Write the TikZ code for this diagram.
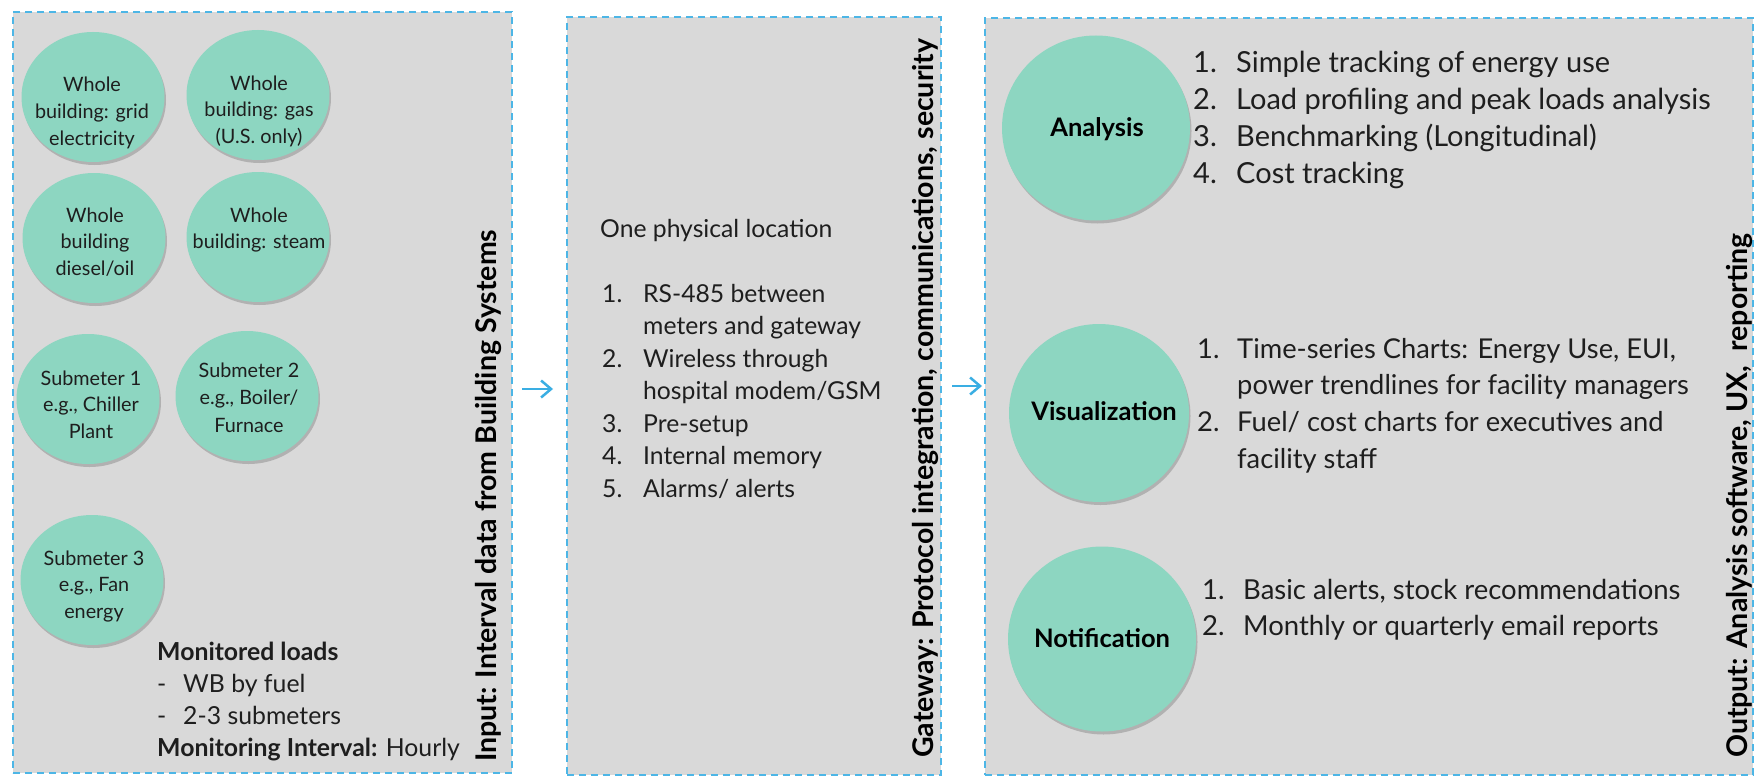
\documentclass[tikz,border=0pt]{standalone}
\usepackage{fontspec}
\setmainfont{Lato}
\usetikzlibrary{shapes.geometric,arrows.meta}
\definecolor{panelfill}{HTML}{D9D9D9}
\definecolor{dashblue}{HTML}{4DB6E6}
\definecolor{arrowblue}{HTML}{3AAEE3}
\definecolor{mint}{HTML}{8DD6C1}
\definecolor{txt}{HTML}{1E1E1E}
\newcommand\fsz[1]{\fontsize{#1}{#1}\selectfont}
\newcommand\cstack[2]{\vtop{\baselineskip=#1\relax\lineskiplimit=-100pt\halign{\hfil##\hfil\cr#2\crcr}}}
\newcommand\lstack[2]{\vtop{\baselineskip=#1\relax\lineskiplimit=-100pt\halign{##\hfil\cr#2\crcr}}}
\newcommand\numb[2]{\makebox[#1][l]{#2}}
\tikzset{
  panel/.style={draw=dashblue, fill=panelfill, line width=2pt, dash pattern=on 7pt off 5pt, inner sep=0pt, rectangle},
  shade/.style={fill=black, opacity=0.18},
  circ/.style={ellipse, fill=mint, inner sep=0pt},
  small/.style={circ, minimum width=143pt, minimum height=130pt},
  ctext/.style={anchor=base, inner sep=0pt, text=txt, font=\fsz{19.8}},
  ltext/.style={anchor=base west, inner sep=0pt, text=txt},
  title/.style={rotate=90, anchor=base west, inner sep=0pt, text=black, font=\fsz{28.5}\bfseries},
  label/.style={anchor=base, inner sep=0pt, text=black, font=\fsz{25.5}\bfseries},
  flow/.style={draw=arrowblue, line width=2.5pt, -{Straight Barb[length=10pt,width=17pt,line width=2.5pt]}}
}
\begin{document}
\begin{tikzpicture}[x=1pt,y=-1pt]
\fill[white] (0,0) rectangle (1760,776);
\useasboundingbox (0,0) rectangle (1760,776);
% panels
\node[panel, minimum width=499pt, minimum height=761pt] (p1) at (262.5,392.5) {};
\node[panel, minimum width=374pt, minimum height=758pt] (p2) at (754,396) {};
\node[panel, minimum width=768pt, minimum height=757pt] (p3) at (1369,396.5) {};
% titles
\node[title] (t1) at (496,762) {Input: Interval data from Building Systems};
\node[title] (t2) at (933,758) {Gateway: Protocol integration, communications, security};
\node[title] (t3) at (1747,758) {Output: Analysis software, UX,\ \ reporting};
% panel 1 circles with shadows
\foreach \n/\cx/\cy in {c1/93/97, c2/258/95, c3/94/238, c4/258/237, c5/88/399, c6/247/396, c7/92/580}{
  \fill[shade] (\cx+1.5,\cy+3) ellipse [x radius=71.5pt, y radius=65pt];
  \node[small] (\n) at (\cx,\cy) {};
}
\node[ctext] (c1t) at (92,92) {\cstack{26.5pt}{Whole\cr building: grid\cr electricity}};
\node[ctext] (c2t) at (259,90) {\cstack{26.5pt}{Whole\cr building: gas\cr (U.S. only)}};
\node[ctext] (c3t) at (95,222) {\cstack{26.5pt}{Whole\cr building\cr diesel/oil}};
\node[ctext] (c4t) at (259,222) {\cstack{26.5pt}{Whole\cr building: steam}};
\node[ctext] (c5t) at (91,385) {\cstack{26.5pt}{Submeter 1\cr e.g., Chiller\cr Plant}};
\node[ctext] (c6t) at (249,377) {\cstack{27.5pt}{Submeter 2\cr e.g., Boiler/\cr Furnace}};
\node[ctext] (c7t) at (94,565) {\cstack{26.5pt}{Submeter 3\cr e.g., Fan\cr energy}};
% panel 1 notes
\node[ltext, font=\fsz{24.8}] (notes) at (157,660) {\lstack{32.3pt}{\textbf{Monitored loads}\cr
  \numb{26pt}{-}WB by fuel\cr
  \numb{26pt}{-}2-3 submeters\cr
  \textbf{Monitoring Interval:} Hourly}};
% panel 2 text
\node[ltext, font=\fsz{24.7}] (loc) at (600,237) {One physical location};
\node[ltext, font=\fsz{24.7}] (gwlist) at (602,302) {\lstack{32.5pt}{\numb{41pt}{1.}RS-485 between\cr
  \numb{41pt}{}meters and gateway\cr
  \numb{41pt}{2.}Wireless through\cr
  \numb{41pt}{}hospital modem/GSM\cr
  \numb{41pt}{3.}Pre-setup\cr
  \numb{41pt}{4.}Internal memory\cr
  \numb{41pt}{5.}Alarms/ alerts}};
% panel 3 circles
\foreach \n/\cx/\cy/\w/\h in {ana/1096/128/188/185, vis/1099/413/180/178, noti/1102/639/188/185}{
  \fill[shade] (\cx+1.5,\cy+3) ellipse [x radius=\w/2, y radius=\h/2];
  \node[circ, minimum width=\w pt, minimum height=\h pt] (\n) at (\cx,\cy) {};
}
\node[label] (anat) at (1097,136) {Analysis};
\node[label] (vist) at (1104,420) {Visualization};
\node[label] (notit) at (1102,647) {Notification};
% panel 3 lists
\node[ltext, font=\fsz{29}] (analist) at (1193,73) {\lstack{36.7pt}{\numb{43pt}{1.}Simple tracking of energy use\cr
  \numb{43pt}{2.}Load profiling and peak loads analysis\cr
  \numb{43pt}{3.}Benchmarking (Longitudinal)\cr
  \numb{43pt}{4.}Cost tracking}};
\node[ltext, font=\fsz{27.3}] (vislist) at (1197,358) {\lstack{36.7pt}{\numb{40pt}{1.}Time-series Charts: Energy Use, EUI,\cr
  \numb{40pt}{}power trendlines for facility managers\cr
  \numb{40pt}{2.}Fuel/ cost charts for executives and\cr
  \numb{40pt}{}facility staff}};
\node[ltext, font=\fsz{27.5}] (notilist) at (1202,599) {\lstack{36pt}{\numb{41pt}{1.}Basic alerts, stock recommendations\cr
  \numb{41pt}{2.}Monthly or quarterly email reports}};
% arrows
\coordinate (a1s) at (522,389);
\coordinate (a1e) at (553,389);
\coordinate (a2s) at (952,386);
\coordinate (a2e) at (982,386);
\draw[flow] (a1s) -- (a1e);
\draw[flow] (a2s) -- (a2e);
\end{tikzpicture}
\end{document}
